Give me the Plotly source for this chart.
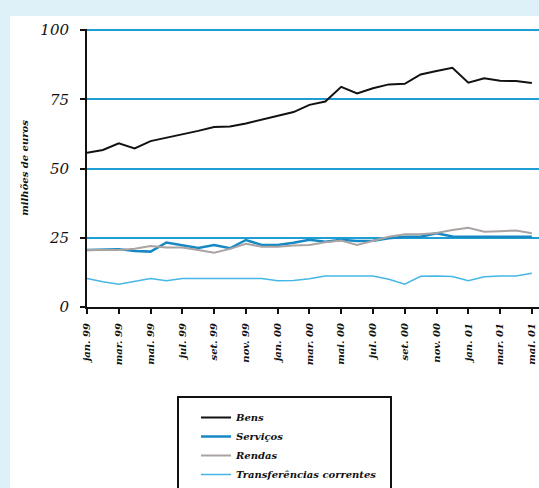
import plotly.graph_objects as go

# Monthly observations, Jan 1999 - May 2001 (million euros)
months = [
    "jan. 99", "fev. 99", "mar. 99", "abr. 99", "mai. 99", "jun. 99",
    "jul. 99", "ago. 99", "set. 99", "out. 99", "nov. 99", "dez. 99",
    "jan. 00", "fev. 00", "mar. 00", "abr. 00", "mai. 00", "jun. 00",
    "jul. 00", "ago. 00", "set. 00", "out. 00", "nov. 00", "dez. 00",
    "jan. 01", "fev. 01", "mar. 01", "abr. 01", "mai. 01",
]

bens = [55.7, 56.7, 59.1, 57.3, 59.9, 61.1, 62.3, 63.6, 65.0, 65.2,
        66.3, 67.7, 69.2, 70.4, 73.0, 74.2, 79.5, 77.1, 79.0, 80.4,
        80.6, 84.0, 85.2, 86.4, 81.0, 82.6, 81.7, 81.6, 80.9]

servicos = [20.6, 20.8, 20.9, 20.2, 20.0, 23.3, 22.4, 21.3, 22.4, 21.2,
            24.2, 22.4, 22.4, 23.2, 24.3, 23.6, 24.3, 23.8, 23.9, 24.8,
            25.4, 25.4, 26.6, 25.5, 25.4, 25.4, 25.4, 25.4, 25.4]

rendas = [20.6, 20.6, 20.6, 21.0, 22.0, 21.5, 21.5, 20.6, 19.6, 21.0,
          22.8, 21.8, 21.8, 22.2, 22.4, 23.4, 24.0, 22.4, 23.8, 25.4,
          26.3, 26.3, 26.7, 27.8, 28.6, 27.2, 27.4, 27.6, 26.6]

transferencias = [10.3, 9.1, 8.2, 9.3, 10.3, 9.5, 10.3, 10.3, 10.3, 10.3,
                  10.3, 10.3, 9.5, 9.6, 10.2, 11.2, 11.2, 11.2, 11.2, 10.0,
                  8.2, 11.1, 11.2, 11.0, 9.5, 10.9, 11.2, 11.2, 12.2]

y_ticks = [0, 25, 50, 75, 100]

series = [
    ("Bens", bens, "#111111", 2),
    ("Serviços", servicos, "#1689c4", 2.5),
    ("Rendas", rendas, "#a9a3a1", 2),
    ("Transferências correntes", transferencias, "#45b6e6", 1.5),
]

fig = go.Figure()
for name, vals, color, width in series:
    fig.add_trace(go.Scatter(
        x=months, y=vals, name=name, mode="lines",
        line=dict(color=color, width=width),
    ))

W, H = 539, 488
L, R, T, B = 87, 0, 29, 181
pw, ph = W - L - R, H - T - B


def px_x(p):
    return (p - L) / pw


def px_y(p):
    return (H - B - p) / ph


# white panel on the light blue page and the legend frame
fig.add_shape(type="rect", xref="paper", yref="paper", layer="below",
              x0=px_x(10), x1=px_x(560), y0=px_y(16), y1=px_y(520),
              fillcolor="white", line=dict(width=0))
fig.add_shape(type="rect", xref="paper", yref="paper",
              x0=px_x(178), x1=px_x(391), y0=px_y(397), y1=px_y(520),
              fillcolor="rgba(0,0,0,0)", line=dict(color="#111111", width=2))

fig.update_layout(
    width=W, height=H,
    margin=dict(l=L, r=R, t=T, b=B, autoexpand=False),
    paper_bgcolor="#def1f9",
    plot_bgcolor="white",
    font=dict(family="DejaVu Serif", color="#111111", style="italic"),
    showlegend=True,
    legend=dict(
        x=px_x(196), y=px_y(403), xanchor="left", yanchor="top",
        bgcolor="rgba(0,0,0,0)", borderwidth=0,
        font=dict(family="DejaVu Serif", size=10, style="italic",
                  weight="bold", color="#111111"),
        tracegroupgap=0,
    ),
    xaxis=dict(
        type="category", range=[0, 28.45],
        tickmode="linear", tick0=0, dtick=2,
        tickangle=-90, tickfont=dict(size=10, weight="bold"),
        ticklabelstandoff=5,
        showgrid=False, showline=True, linecolor="#111111", linewidth=2,
        ticks="outside", ticklen=5, tickwidth=2, tickcolor="#111111",
        zeroline=False,
    ),
    yaxis=dict(
        range=[0, 100.4], tickvals=y_ticks,
        tickfont=dict(size=15),
        showgrid=True, gridcolor="#1f9ed4", gridwidth=2,
        showline=True, linecolor="#111111", linewidth=2,
        ticks="outside", ticklen=5, tickwidth=2, tickcolor="#111111",
        zeroline=False, ticklabelstandoff=8,
        title=dict(text="milhões de euros", standoff=10,
                   font=dict(size=10, weight="bold")),
    ),
)

fig.write_html("out.html")
